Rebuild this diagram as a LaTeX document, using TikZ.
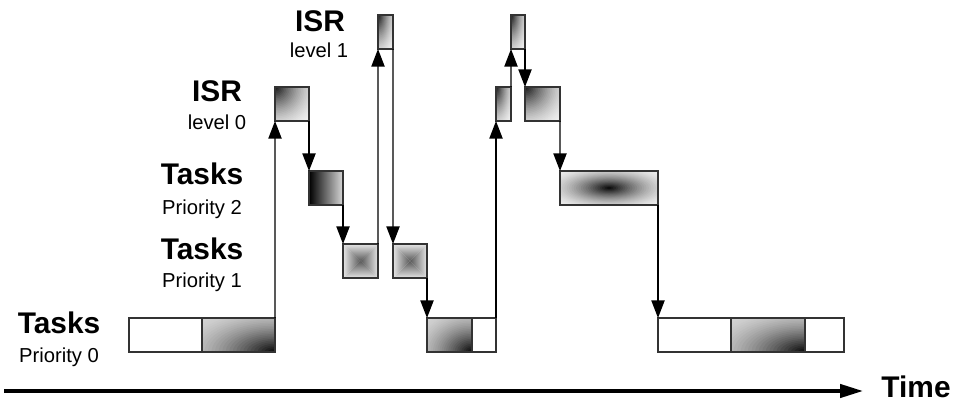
\documentclass[tikz,border=0pt]{standalone}
\usepackage{fontspec}
\setmainfont{Liberation Sans}
\usetikzlibrary{arrows.meta,calc}

\begin{document}
\begin{tikzpicture}[x=0.2mm, y=-0.2mm]
    \tikzstyle{slot} = [draw=black!80, line width=1pt, inner sep=0pt, outer sep=0pt, anchor=north west, minimum height=34*0.2mm, fill=white]
    \tikzstyle{flow} = [-{Triangle[width=7.5pt,length=10pt]}, line width=0.8pt]
    \tikzstyle{head} = [font=\fontsize{17}{20}\selectfont\bfseries, anchor=base]
    \tikzstyle{sub} = [font=\fontsize{11.5}{14}\selectfont, anchor=base]
    \tikzset{
        wide/.style={minimum width=#1*0.2mm},
        % radial glow: anchor, reach, dark, light
        glow/.style n args={4}{path picture={
            \fill[black!#4] (path picture bounding box.south west) rectangle (path picture bounding box.north east);
            \foreach \k in {30,29,...,1}{
                \pgfmathsetmacro\tone{#4+(#3-#4)*(1-\k/31)^1.7}
                \fill[black!\tone] let \p1 = ($(path picture bounding box.north east)-(path picture bounding box.south west)$) in
                    (path picture bounding box.#1) ellipse [x radius={#2*\k/30*\x1}, y radius={#2*\k/30*\y1}];
            }
        }},
        pyramid/.style={path picture={
            \coordinate (nw) at (path picture bounding box.north west);
            \coordinate (ne) at (path picture bounding box.north east);
            \coordinate (sw) at (path picture bounding box.south west);
            \coordinate (se) at (path picture bounding box.south east);
            \coordinate (cc) at (path picture bounding box.center);
            \shade[top color=black!10, bottom color=black!65] (nw) -- (ne) -- (cc) -- cycle;
            \shade[top color=black!65, bottom color=black!10] (sw) -- (se) -- (cc) -- cycle;
            \shade[left color=black!10, right color=black!65] (nw) -- (sw) -- (cc) -- cycle;
            \shade[left color=black!65, right color=black!10] (ne) -- (se) -- (cc) -- cycle;
        }},
        run/.style={glow={south east}{1.45}{100}{16}},
        isr/.style={glow={north west}{1.45}{95}{5}},
        blob/.style={glow={center}{0.72}{100}{6}}
    }
    \useasboundingbox (0,0) rectangle (953,405);

    % row labels
    \node (isr1) at (320,32) [head] {ISR};
    \node (lev1) at (319,58) [sub] {level 1};
    \node (isr0) at (217,102) [head] {ISR};
    \node (lev0) at (217,130) [sub] {level 0};
    \node (tk2) at (202,185) [head] {Tasks};
    \node (pr2) at (202,215) [sub] {Priority 2};
    \node (tk1) at (202,259) [head] {Tasks};
    \node (pr1) at (202,287) [sub] {Priority 1};
    \node (tk0) at (59,333) [head] {Tasks};
    \node (pr0) at (59,362) [sub] {Priority 0};

    % time slots
    \node (t0a) at (129,318) [slot, wide=73] {};
    \node (t0b) at (202,318) [slot, wide=73, run] {};
    \node (i0a) at (275,87) [slot, wide=34, isr] {};
    \node (t2a) at (309,171) [slot, wide=34, left color=black, right color=black!15] {};
    \node (t1a) at (343,244) [slot, wide=35, pyramid] {};
    \node (i1a) at (378,15) [slot, wide=15, isr] {};
    \node (t1b) at (393,244) [slot, wide=34, pyramid] {};
    \node (t0c) at (427,318) [slot, wide=45, run] {};
    \node (t0d) at (472,318) [slot, wide=24] {};
    \node (i0b) at (496,87) [slot, wide=15, isr] {};
    \node (i1b) at (511,15) [slot, wide=14, isr] {};
    \node (i0c) at (525,87) [slot, wide=35, isr] {};
    \node (t2b) at (560,171) [slot, wide=98, blob] {};
    \node (t0e) at (658,318) [slot, wide=73] {};
    \node (t0f) at (731,318) [slot, wide=74, run] {};
    \node (t0g) at (805,318) [slot, wide=39] {};

    % switches
    \draw [flow] (t0b.north east) -- (i0a.south west);
    \draw [flow] (i0a.south east) -- (t2a.north west);
    \draw [flow] (t2a.south east) -- (t1a.north west);
    \draw [flow] (t1a.north east) -- (i1a.south west);
    \draw [flow] (i1a.south east) -- (t1b.north west);
    \draw [flow] (t1b.south east) -- (t0c.north west);
    \draw [flow] (t0d.north east) -- (i0b.south west);
    \draw [flow] (i0b.north east) -- (i1b.south west);
    \draw [flow] (i1b.south east) -- (i0c.north west);
    \draw [flow] (i0c.south east) -- (t2b.north west);
    \draw [flow] (t2b.south east) -- (t0e.north west);

    % time axis
    \coordinate (ts) at (4,391);
    \coordinate (te) at (863,391);
    \draw [line width=2pt, -{Triangle[width=7.5pt,length=13pt]}] (ts) -- (te);
    \node (time) at (916,397) [head] {Time};
\end{tikzpicture}
\end{document}
